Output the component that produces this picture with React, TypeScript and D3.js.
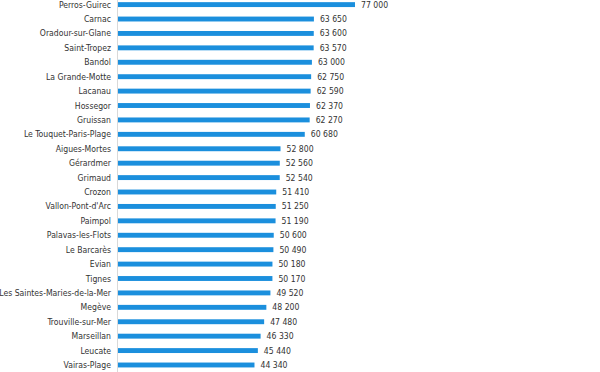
import React, { useEffect, useRef } from "react";
import * as d3 from "d3";

const towns = [
  "Perros-Guirec", "Carnac", "Oradour-sur-Glane", "Saint-Tropez", "Bandol",
  "La Grande-Motte", "Lacanau", "Hossegor", "Gruissan", "Le Touquet-Paris-Plage",
  "Aigues-Mortes", "Gérardmer", "Grimaud", "Crozon", "Vallon-Pont-d'Arc",
  "Paimpol", "Palavas-les-Flots", "Le Barcarès", "Evian", "Tignes",
  "Les Saintes-Maries-de-la-Mer", "Megève", "Trouville-sur-Mer", "Marseillan",
  "Leucate", "Vairas-Plage",
];
const values = [
  77000, 63650, 63600, 63570, 63000, 62750, 62590, 62370, 62270, 60680,
  52800, 52560, 52540, 51410, 51250, 51190, 50600, 50490, 50180, 50170,
  49520, 48200, 47480, 46330, 45440, 44340,
];

export default function App() {
  const svgRef = useRef<SVGSVGElement>(null);
  useEffect(() => {
    const svg = d3.select(svgRef.current);
    svg.selectAll("*").remove();
    const left = 118;
    const data = towns.map((t, i) => ({ town: t, value: values[i] }));

    const x = d3.scaleLinear().domain([0, 77000]).range([left, 355]);
    const y = d3
      .scaleBand()
      .domain(towns)
      .range([-2.6, 372.2])
      .paddingInner(0.66)
      .paddingOuter(0.33);

    const fmt = (v: number) => d3.format(",")(v).replace(/,/g, " ");

    svg
      .append("g")
      .selectAll("rect")
      .data(data)
      .enter()
      .append("rect")
      .attr("x", x(0))
      .attr("y", (d) => y(d.town)!)
      .attr("width", (d) => x(d.value) - x(0))
      .attr("height", y.bandwidth())
      .attr("fill", "#1b8fdd");

    // axis line
    svg
      .append("line")
      .attr("x1", left - 0.5)
      .attr("x2", left - 0.5)
      .attr("y1", 0)
      .attr("y2", 372)
      .attr("stroke", "#d9d9d9")
      .attr("stroke-width", 1);

    const font = "'DejaVu Sans Condensed', 'Liberation Sans', sans-serif";

    svg
      .append("g")
      .selectAll("text")
      .data(data)
      .enter()
      .append("text")
      .attr("x", left - 7)
      .attr("y", (d) => y(d.town)! + y.bandwidth() / 2)
      .attr("dy", "0.35em")
      .attr("text-anchor", "end")
      .attr("font-family", font)
      .attr("font-size", 8.6)
      .attr("fill", "#333")
      .text((d) => d.town);

    svg
      .append("g")
      .selectAll("text")
      .data(data)
      .enter()
      .append("text")
      .attr("x", (d) => x(d.value) + 6)
      .attr("y", (d) => y(d.town)! + y.bandwidth() / 2)
      .attr("dy", "0.35em")
      .attr("font-family", font)
      .attr("font-size", 8.6)
      .attr("fill", "#333")
      .text((d) => fmt(d.value));
  }, []);

  return (
    <svg
      ref={svgRef}
      width={600}
      height={372}
      style={{ position: "absolute", left: 0, top: 0, background: "#fff" }}
    />
  );
}
